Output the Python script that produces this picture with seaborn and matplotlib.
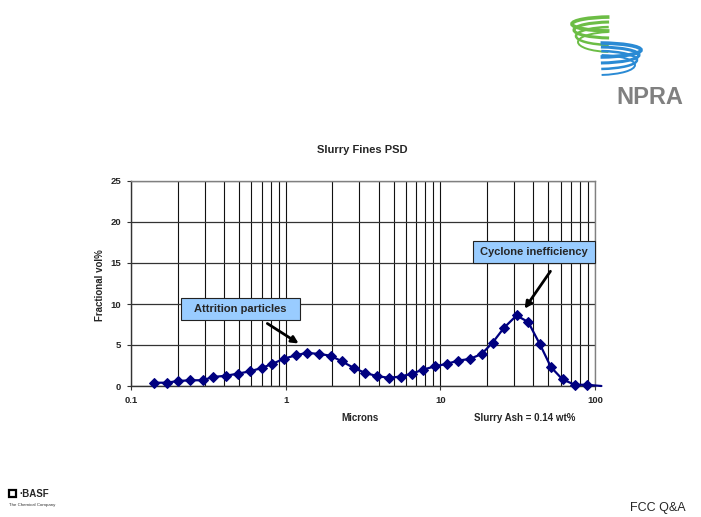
import numpy as np
import pandas as pd
import matplotlib
matplotlib.use("Agg")
import matplotlib.pyplot as plt
import seaborn as sns
from matplotlib.patches import Arc, Rectangle

sns.set_theme(style="white")
plt.rcParams['font.family'] = ['Liberation Sans', 'DejaVu Sans']

# ---- data ----
microns = [0.14, 0.17, 0.20, 0.24, 0.29, 0.34, 0.41, 0.49, 0.59, 0.70, 0.82, 0.98,
           1.17, 1.37, 1.65, 1.95, 2.31, 2.76, 3.26, 3.91, 4.65, 5.54, 6.52, 7.75,
           9.23, 11.0, 13.1, 15.5, 18.5, 21.8, 25.8, 31.1, 37.0, 44.0, 51.9, 61.7,
           74.1, 88.2]
fractional = [0.4, 0.4, 0.6, 0.7, 0.7, 1.1, 1.25, 1.5, 1.8, 2.2, 2.7, 3.35,
              3.75, 4.05, 3.9, 3.7, 3.0, 2.2, 1.6, 1.2, 1.0, 1.15, 1.5, 2.0,
              2.4, 2.7, 3.1, 3.3, 3.9, 5.3, 7.1, 8.6, 7.8, 5.1, 2.3, 0.8,
              0.15, 0.15]
tail_micron = [88.2, 110.0]
tail_value = [0.15, 0.0]
x_ticks = [0.1, 1, 10, 100]
x_tick_labels = ["0.1", "1", "10", "100"]
y_ticks = [0, 5, 10, 15, 20, 25]

df = pd.DataFrame({"Microns": microns, "Fractional vol%": fractional})
df_tail = pd.DataFrame({"Microns": tail_micron, "Fractional vol%": tail_value})

navy = "#000080"
fig = plt.figure(figsize=(7.01, 5.17), dpi=100)
ax = fig.add_axes([131/701, 1-386/517, 464/701, 205/517])

sns.lineplot(data=df_tail, x="Microns", y="Fractional vol%", ax=ax, color=navy,
             linewidth=1.6, clip_on=False, zorder=3)
sns.lineplot(data=df, x="Microns", y="Fractional vol%", ax=ax, color=navy,
             linewidth=1.6, marker="D", markersize=5.5, markeredgecolor=navy,
             markerfacecolor=navy, clip_on=False, zorder=4)

ax.set_xscale("log")
ax.set_xlim(0.1, 100)
ax.set_ylim(0, 25)
ax.set_xticks(x_ticks)
ax.set_xticklabels(x_tick_labels)
ax.set_yticks(y_ticks)
ax.xaxis.set_minor_locator(matplotlib.ticker.LogLocator(base=10, subs=np.arange(2, 10)))
ax.xaxis.set_minor_formatter(matplotlib.ticker.NullFormatter())
ax.grid(True, which="major", axis="y", color="#333333", linewidth=0.9)
ax.grid(True, which="both", axis="x", color="#111111", linewidth=0.8)
ax.set_axisbelow(True)
for s in ["top", "right"]:
    ax.spines[s].set_color("#808080")
    ax.spines[s].set_linewidth(1.0)
for s in ["left", "bottom"]:
    ax.spines[s].set_color("#333333")
    ax.spines[s].set_linewidth(1.0)
ax.tick_params(axis="both", which="major", labelsize=6.8, length=3, width=0.8,
               color="#333333", direction="out", bottom=True, left=True, pad=4)
ax.tick_params(axis="x", which="minor", length=0, bottom=False)
for lab in ax.get_xticklabels() + ax.get_yticklabels():
    lab.set_fontweight("bold")
ax.set_xlabel("")
ax.set_ylabel("")

fig.text(362/701, 1-150/517, "Slurry Fines PSD", ha="center", va="center",
         fontsize=8, fontweight="bold")
fig.text(360/701, 1-418/517, "Microns", ha="center", va="center",
         fontsize=7, fontweight="bold")
fig.text(525/701, 1-418/517, "Slurry Ash = 0.14 wt%", ha="center", va="center",
         fontsize=7, fontweight="bold")
fig.text(100/701, 1-285/517, "Fractional vol%", ha="center", va="center",
         fontsize=7, fontweight="bold", rotation=90)

# annotation boxes
def label_box(x0, y0, x1, y1, text):
    r = Rectangle((x0/701, 1-y1/517), (x1-x0)/701, (y1-y0)/517,
                  transform=fig.transFigure, facecolor="#99ccff",
                  edgecolor="#222222", linewidth=0.8, zorder=10)
    fig.patches.append(r)
    fig.text((x0+x1)/2/701, 1-(y0+y1)/2/517, text, ha="center", va="center",
             fontsize=8, fontweight="bold", zorder=11)

label_box(181, 298, 300, 320, "Attrition particles")
label_box(473, 241, 595, 263, "Cyclone inefficiency")

def arrow(x0, y0, x1, y1):
    fig.add_artist(matplotlib.patches.FancyArrowPatch(
        (x0/701, 1-y0/517), (x1/701, 1-y1/517), transform=fig.transFigure,
        arrowstyle="-|>", mutation_scale=10, linewidth=2.0, color="black", zorder=12))

arrow(265, 322, 301, 345)
arrow(552, 269, 523, 311)

# NPRA logo (approximate swooshes)
for k in range(4):
    a = Arc((612/701, 1-(24 + k*6)/517), (80 - k*4)/701, (14 + k*2)/517,
            theta1=105, theta2=255, transform=fig.transFigure,
            color="#6cbd45", linewidth=2.6 - k*0.4)
    fig.add_artist(a)
for k in range(4):
    a = Arc((598/701, 1-(50 + k*5)/517), (86 - k*4)/701, (14 + k*2)/517,
            theta1=-75, theta2=75, transform=fig.transFigure,
            color="#2a8ad4", linewidth=2.6 - k*0.4)
    fig.add_artist(a)
fig.text(650/701, 1-98/517, "NPRA", ha="center", va="center", fontsize=17,
         fontweight="bold", color="#808080")

# BASF logo
fig.add_artist(Rectangle((9/701, 1-497/517), 7/701, 7/517, transform=fig.transFigure,
                         facecolor="white", edgecolor="black", linewidth=1.6))
fig.text(19/701, 1-494/517, "·BASF", ha="left", va="center", fontsize=7,
         fontweight="bold")
fig.text(9/701, 1-505/517, "The Chemical Company", ha="left", va="center",
         fontsize=3.2, color="#333333")

fig.text(658/701, 1-508/517, "FCC Q&A", ha="center", va="center", fontsize=9)

fig.savefig("out.png", dpi=100)
